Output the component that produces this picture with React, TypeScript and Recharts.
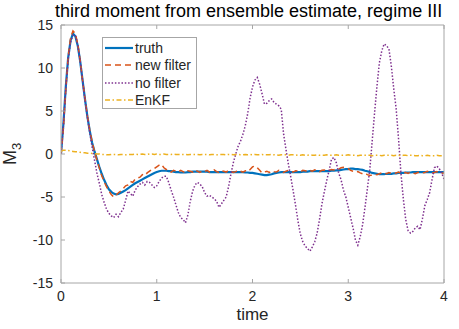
import React from 'react';
import {
  LineChart,
  Line,
  XAxis,
  YAxis,
} from 'recharts';

// sample times: 0 to 4 with step 0.025
const time = Array.from({ length: 161 }, (_, i) => Math.round(i * 25) / 1000);

const truth = [
  0, 3.5, 7.8, 11.2, 13.2, 14.0, 13.7, 12.6, 10.8, 8.6,
  6.4, 4.4, 2.7, 1.3, 0.3, -0.6, -1.5, -2.3, -3.0, -3.6,
  -4.1, -4.4, -4.6, -4.7, -4.65, -4.5, -4.35, -4.2, -4.0, -3.8,
  -3.6, -3.4, -3.25, -3.1, -2.95, -2.8, -2.65, -2.5, -2.35, -2.2,
  -2.1, -2.0, -1.95, -1.95, -1.95, -2.0, -2.0, -2.05, -2.1, -2.1,
  -2.15, -2.15, -2.15, -2.1, -2.1, -2.05, -2.05, -2.05, -2.05, -2.05,
  -2.05, -2.05, -2.1, -2.1, -2.1, -2.1, -2.1, -2.1, -2.1, -2.1,
  -2.1, -2.1, -2.1, -2.1, -2.1, -2.1, -2.1, -2.15, -2.15, -2.2,
  -2.2, -2.25, -2.3, -2.35, -2.4, -2.45, -2.45, -2.4, -2.35, -2.25,
  -2.2, -2.15, -2.1, -2.1, -2.1, -2.1, -2.1, -2.1, -2.1, -2.1,
  -2.1, -2.05, -2.05, -2.05, -2.0, -2.0, -2.0, -2.0, -2.0, -2.0,
  -2.0, -2.0, -2.0, -1.95, -1.95, -1.9, -1.9, -1.85, -1.8, -1.75,
  -1.75, -1.7, -1.7, -1.75, -1.75, -1.8, -1.85, -1.95, -2.0, -2.1,
  -2.2, -2.25, -2.3, -2.35, -2.35, -2.35, -2.3, -2.3, -2.3, -2.25,
  -2.25, -2.2, -2.2, -2.2, -2.15, -2.15, -2.15, -2.1, -2.1, -2.1,
  -2.1, -2.1, -2.1, -2.1, -2.1, -2.1, -2.1, -2.1, -2.1, -2.1,
  -2.1,
];

const newFilter = [
  0, 3.0, 7.5, 11.3, 13.5, 14.3, 14.0, 12.8, 10.9, 8.6,
  6.5, 4.5, 2.8, 1.4, 0.3, -0.7, -1.6, -2.5, -3.2, -3.8,
  -4.3, -4.7, -5.0, -4.8, -4.5, -4.3, -4.0, -3.7, -3.6, -3.2,
  -3.3, -2.9, -2.8, -2.7, -2.4, -2.5, -2.2, -2.0, -1.8, -1.7,
  -1.5, -1.3, -1.2, -1.6, -1.8, -1.9, -2.1, -1.9, -2.0, -2.1,
  -1.9, -2.05, -2.2, -1.95, -2.0, -2.1, -1.85, -2.0, -2.15, -1.95,
  -2.05, -1.9, -2.1, -2.0, -1.85, -2.05, -2.15, -1.95, -2.0, -2.1,
  -1.9, -2.0, -2.15, -2.05, -1.9, -2.0, -2.1, -1.95, -2.05, -1.8,
  -1.5, -1.4, -1.6, -1.9, -2.2, -2.1, -2.0, -2.15, -1.95, -2.05,
  -2.1, -1.9, -2.0, -2.15, -2.0, -1.9, -2.05, -2.1, -1.95, -2.0,
  -2.1, -1.9, -1.95, -2.05, -1.9, -2.0, -1.85, -1.95, -2.05, -1.9,
  -1.85, -1.95, -1.9, -1.8, -1.85, -1.7, -1.75, -1.6, -1.55, -1.6,
  -1.7, -1.9, -2.0, -2.1, -2.05, -2.2, -2.3, -2.25, -2.4, -2.5,
  -2.45, -2.35, -2.4, -2.3, -2.2, -2.25, -2.3, -2.15, -2.25, -2.3,
  -2.2, -2.1, -2.25, -2.2, -2.15, -2.25, -2.1, -2.2, -2.3, -2.15,
  -2.1, -2.2, -2.15, -2.0, -2.1, -2.2, -2.15, -2.05, -2.2, -2.25,
  -2.2,
];

const noFilter = [
  0, 3.3, 7.6, 11.0, 13.0, 13.8, 13.8, 12.7, 10.8, 8.6,
  6.3, 4.3, 2.5, 0.8, -0.7, -2.2, -3.4, -4.7, -5.6, -6.4,
  -6.9, -7.2, -7.4, -7.0, -7.3, -6.8, -6.4, -5.4, -4.3, -4.6,
  -4.9, -4.2, -3.8, -3.5, -3.3, -3.6, -3.2, -3.3, -3.6, -3.9,
  -3.7, -3.2, -2.8, -2.6, -2.6, -3.3, -4.2, -5.0, -5.9, -6.8,
  -7.4, -7.6, -8.0, -7.1, -5.5, -4.3, -3.6, -3.3, -3.5, -3.8,
  -4.5, -4.9, -4.8, -5.0, -5.2, -5.5, -6.2, -5.8, -5.4, -5.0,
  -3.8, -2.3, -1.0, 0.0, 0.9, 1.5, 2.3, 3.3, 4.7, 6.5,
  7.8, 8.6, 8.9, 8.1, 7.0, 5.8, 5.9, 6.2, 6.4, 6.0,
  5.8, 5.6, 5.2, 2.3, 0.5, -1.2, -2.7, -4.3, -6.0, -7.8,
  -9.3, -10.2, -10.7, -11.0, -11.3, -10.8, -10.2, -9.2, -7.6, -5.8,
  -4.4, -3.1, -1.9, -0.6, -0.4, -1.0, -2.2, -3.0, -4.2, -5.0,
  -6.2, -7.4, -8.6, -10.0, -10.6, -9.6, -8.2, -6.2, -4.0, -1.8,
  1.5, 4.8, 7.9, 10.6, 12.0, 12.8, 12.6, 12.2, 10.2, 7.6,
  5.3, 1.8, -2.2, -5.2, -7.6, -8.9, -9.2, -9.0, -8.6, -8.4,
  -8.8, -7.5, -6.0, -5.3, -4.5, -3.0, -1.6, -1.4, -1.7, -2.2,
  -2.9,
];

const enkf = [
  0.3, 0.45, 0.45, 0.4, 0.35, 0.3, 0.25, 0.25, 0.2, 0.15,
  0.15, 0.1, 0.1, 0.05, 0.05, 0.0, 0.0, -0.05, -0.05, -0.1,
  -0.1, -0.05, -0.05, -0.05, -0.1, -0.05, -0.05, -0.1, -0.05, -0.05,
  -0.05, 0.0, -0.05, -0.05, 0.0, -0.05, -0.05, 0.0, 0.0, -0.05,
  0.0, -0.05, -0.05, 0.0, -0.05, -0.05, -0.05, 0.0, -0.05, -0.05,
  -0.05, -0.05, -0.05, -0.1, -0.05, -0.05, -0.05, -0.05, -0.1, -0.05,
  -0.05, -0.05, -0.1, -0.05, -0.05, -0.1, -0.05, -0.05, -0.05, -0.1,
  -0.05, -0.05, -0.1, -0.05, -0.05, -0.1, -0.1, -0.05, -0.1, -0.05,
  -0.1, -0.05, -0.1, -0.1, -0.05, -0.1, -0.1, -0.1, -0.05, -0.1,
  -0.1, -0.15, -0.1, -0.1, -0.1, -0.15, -0.1, -0.1, -0.15, -0.1,
  -0.15, -0.1, -0.15, -0.15, -0.1, -0.15, -0.15, -0.1, -0.15, -0.15,
  -0.15, -0.1, -0.15, -0.15, -0.15, -0.1, -0.15, -0.15, -0.15, -0.15,
  -0.1, -0.15, -0.15, -0.15, -0.2, -0.15, -0.15, -0.15, -0.15, -0.15,
  -0.2, -0.15, -0.15, -0.15, -0.2, -0.15, -0.15, -0.15, -0.15, -0.2,
  -0.15, -0.15, -0.2, -0.15, -0.15, -0.2, -0.15, -0.15, -0.2, -0.2,
  -0.15, -0.2, -0.2, -0.15, -0.2, -0.2, -0.2, -0.15, -0.2, -0.2,
  -0.2,
];

const xTicks = [0, 1, 2, 3, 4];
const yTicks = [-15, -10, -5, 0, 5, 10, 15];

const series = [
  { key: 'truth', name: 'truth', color: '#0072BD', width: 2.2, dash: undefined },
  { key: 'newFilter', name: 'new filter', color: '#D95319', width: 1.5, dash: '6 4' },
  { key: 'noFilter', name: 'no filter', color: '#7E2F8E', width: 1.5, dash: '1.5 1.8' },
  { key: 'enkf', name: 'EnKF', color: '#EDB120', width: 1.5, dash: '5 2.5 1.5 2.5' },
];

const data = time.map((t, i) => ({
  t,
  truth: truth[i],
  newFilter: newFilter[i],
  noFilter: noFilter[i],
  enkf: enkf[i],
}));

const FONT = '"Liberation Sans", Arial, Helvetica, sans-serif';
const AXIS = '#a6a6a6';
const TEXT = '#262626';

function LegendBox() {
  return (
    <div
      style={{
        position: 'absolute',
        left: 102,
        top: 37,
        background: '#fff',
        border: `1px solid ${AXIS}`,
        width: 95,
        height: 72,
        boxSizing: 'border-box',
        padding: '1px 0 0 1px',
        fontFamily: FONT,
        fontSize: 14,
        color: TEXT,
      }}
    >
      {series.map((s) => (
        <div key={s.key} style={{ display: 'flex', alignItems: 'center', height: 17.5 }}>
          <svg width={30} height={10} style={{ display: 'block' }}>
            <line
              x1={1}
              x2={29}
              y1={5}
              y2={5}
              stroke={s.color}
              strokeWidth={s.width}
              strokeDasharray={s.dash}
            />
          </svg>
          <span style={{ marginLeft: 1 }}>{s.name}</span>
        </div>
      ))}
    </div>
  );
}

export default function App() {
  return (
    <div style={{ position: 'absolute', left: 0, top: 0, width: 459, height: 329, background: '#fff' }}>
      <LineChart
        width={459}
        height={329}
        data={data}
        margin={{ top: 24, right: 14, bottom: 0, left: 0 }}
      >
        <XAxis
          dataKey="t"
          type="number"
          domain={[0, 4]}
          ticks={xTicks}
          height={46}
          tickSize={-4}
          tickMargin={12}
          tick={{ fontSize: 14, fill: TEXT, fontFamily: FONT }}
          axisLine={{ stroke: AXIS }}
          tickLine={{ stroke: AXIS }}
          allowDataOverflow
        />
        <XAxis
          xAxisId="top"
          orientation="top"
          dataKey="t"
          type="number"
          domain={[0, 4]}
          ticks={xTicks}
          height={1}
          tickSize={-4}
          tickFormatter={() => ''}
          axisLine={{ stroke: AXIS }}
          tickLine={{ stroke: AXIS }}
        />
        <YAxis
          type="number"
          domain={[-15, 15]}
          ticks={yTicks}
          width={61}
          tickSize={-4}
          tickMargin={12}
          tick={{ fontSize: 14, fill: TEXT, fontFamily: FONT }}
          axisLine={{ stroke: AXIS }}
          tickLine={{ stroke: AXIS }}
          allowDataOverflow
        />
        <YAxis
          yAxisId="right"
          orientation="right"
          type="number"
          domain={[-15, 15]}
          ticks={yTicks}
          width={1}
          tickSize={-4}
          tickFormatter={() => ''}
          axisLine={{ stroke: AXIS }}
          tickLine={{ stroke: AXIS }}
        />
        {series.map((s) => (
          <Line
            key={s.key}
            dataKey={s.key}
            name={s.name}
            stroke={s.color}
            strokeWidth={s.width}
            strokeDasharray={s.dash}
            dot={false}
            type="linear"
            isAnimationActive={false}
          />
        ))}
      </LineChart>
      <LegendBox />
      <div
        style={{
          position: 'absolute',
          left: 55,
          top: 1,
          fontFamily: FONT,
          fontSize: 18,
          lineHeight: '21px',
          color: '#000',
          whiteSpace: 'nowrap',
        }}
      >
        third moment from ensemble estimate, regime III
      </div>
      <div
        style={{
          position: 'absolute',
          left: 61,
          width: 383,
          top: 305,
          textAlign: 'center',
          fontFamily: FONT,
          fontSize: 17,
          color: TEXT,
        }}
      >
        time
      </div>
      <div
        style={{
          position: 'absolute',
          left: 12,
          top: 154,
          transform: 'translate(-50%, -50%) rotate(-90deg)',
          fontFamily: FONT,
          fontSize: 18,
          color: TEXT,
          whiteSpace: 'nowrap',
        }}
      >
        M<sub style={{ fontSize: 13 }}>3</sub>
      </div>
    </div>
  );
}
